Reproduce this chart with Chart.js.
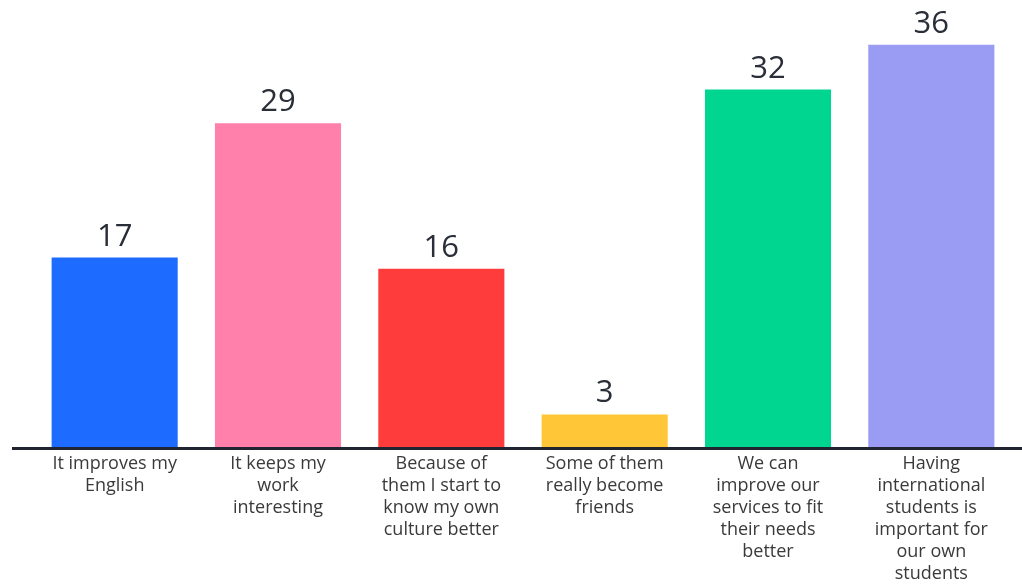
<!DOCTYPE html>
<html>
<head>
<meta charset="utf-8">
<script src="https://cdn.jsdelivr.net/npm/chart.js@4/dist/chart.umd.min.js"></script>
<style>
    html, body { margin: 0; padding: 0; background: #ffffff; }
    #wrap { width: 1022px; height: 584px; position: relative; }
</style>
</head>
<body>
<div id="wrap"><canvas id="chartRaisons"></canvas></div>
<script>
var categories = [
    ["It improves my", "English"],
    ["It keeps my", "work", "interesting"],
    ["Because of", "them I start to", "know my own", "culture better"],
    ["Some of them", "really become", "friends"],
    ["We can", "improve our", "services to fit", "their needs", "better"],
    ["Having", "international", "students is", "important for", "our own", "students"]
];
var valeurs = [17, 29, 16, 3, 32, 36];
var couleurs = ['#1e6cff', '#ff80aa', '#ff3c3c', '#ffc738', '#00d68f', '#999cf2'];

// value above each bar
var etiquettes = {
    id: 'etiquettes',
    afterDatasetsDraw: function (chart) {
        var ctx = chart.ctx;
        var meta = chart.getDatasetMeta(0);
        ctx.save();
        ctx.font = '31px "Open Sans", sans-serif';
        ctx.fillStyle = '#2a2e38';
        ctx.textAlign = 'center';
        ctx.textBaseline = 'alphabetic';
        meta.data.forEach(function (bar, i) {
            ctx.fillText(valeurs[i], bar.x, bar.y - 12);
        });
        ctx.restore();
    }
};

// baseline running past the chart area
var ligneBase = {
    id: 'ligneBase',
    afterDatasetsDraw: function (chart) {
        var ctx = chart.ctx;
        var y0 = chart.scales.y.getPixelForValue(0);
        ctx.save();
        ctx.strokeStyle = '#1f2430';
        ctx.lineWidth = 3;
        ctx.beginPath();
        ctx.moveTo(12, y0 + 0.5);
        ctx.lineTo(chart.width, y0 + 0.5);
        ctx.stroke();
        ctx.restore();
    }
};

var ctx = document.getElementById('chartRaisons').getContext('2d');
var chart = new Chart(ctx, {
    type: 'bar',
    data: {
        labels: categories,
        datasets: [{
            data: valeurs,
            backgroundColor: couleurs,
            borderWidth: 0,
            categoryPercentage: 1,
            barPercentage: 0.772
        }]
    },
    options: {
        responsive: true,
        maintainAspectRatio: false,
        animation: false,
        layout: { padding: { left: 33, right: 9, top: 0, bottom: 0 } },
        plugins: {
            legend: { display: false },
            tooltip: { enabled: false }
        },
        scales: {
            x: {
                grid: { display: false, drawTicks: false },
                border: { display: false },
                ticks: {
                    color: '#3a3a3a',
                    font: { family: '"Open Sans", sans-serif', size: 18, lineHeight: 1.22 },
                    padding: 5,
                    maxRotation: 0,
                    autoSkip: false
                },
                afterFit: function (scale) { scale.height = 136; }
            },
            y: {
                display: false,
                min: 0,
                max: 40
            }
        }
    },
    plugins: [etiquettes, ligneBase]
});
</script>
</body>
</html>
